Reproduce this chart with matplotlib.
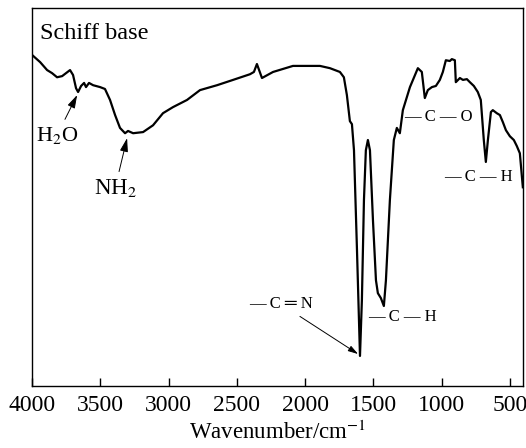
import numpy as np
import matplotlib
matplotlib.use("Agg")
import matplotlib.pyplot as plt

plt.rcParams['font.family'] = ['Liberation Serif', 'DejaVu Sans']
plt.rcParams['mathtext.fontset'] = 'stix'

# FT-IR spectrum of the Schiff base (wavenumber, transmittance in a.u.)
wavenumber = [4000, 3941, 3890, 3854, 3817, 3780, 3751, 3722, 3700, 3678,
              3663, 3641, 3619, 3605, 3583, 3553, 3502, 3466, 3429, 3392,
              3356, 3319, 3297, 3260, 3187, 3114, 3041, 2968, 2865, 2770,
              2645, 2528, 2404, 2375, 2353, 2316, 2235, 2089, 1987, 1891,
              1818, 1745, 1716, 1694, 1672, 1657, 1642, 1620, 1598, 1584,
              1569, 1555, 1540, 1525, 1503, 1481, 1467, 1445, 1423, 1408,
              1379, 1350, 1328, 1306, 1284, 1232, 1174, 1145, 1123, 1101,
              1071, 1042, 1013, 991, 969, 940, 925, 903, 896, 866,
              844, 815, 793, 764, 735, 713, 691, 676, 661, 639,
              625, 596, 573, 551, 529, 500, 471, 449, 427, 405]
transmittance = [87.6, 85.7, 83.6, 82.8, 81.7, 82.0, 82.8, 83.6, 82.3, 78.8,
                 77.8, 79.4, 80.2, 79.1, 80.2, 79.6, 79.1, 78.6, 75.7, 71.7,
                 68.3, 66.9, 67.5, 66.9, 67.2, 69.0, 72.2, 73.8, 75.7, 78.3,
                 79.6, 81.0, 82.5, 83.1, 85.2, 81.5, 83.1, 84.7, 84.7, 84.7,
                 84.1, 83.1, 81.7, 77.0, 70.1, 69.3, 62.4, 36.0, 8.0, 22.8,
                 49.2, 62.4, 65.1, 62.4, 43.9, 28.0, 24.6, 23.3, 21.2, 28.0,
                 49.2, 65.1, 68.3, 66.9, 73.0, 79.1, 84.1, 83.1, 76.2, 78.3,
                 79.1, 79.4, 81.0, 83.1, 86.2, 86.0, 86.5, 86.2, 80.4, 81.5,
                 81.0, 81.2, 80.4, 79.4, 77.8, 75.7, 65.1, 59.3, 65.1, 72.5,
                 73.0, 72.2, 71.7, 69.8, 67.7, 66.1, 65.1, 63.5, 61.6, 52.6]

xticks = [4000, 3500, 3000, 2500, 2000, 1500, 1000, 500]

fig = plt.figure(figsize=(5.26, 4.48), dpi=100)
ax = fig.add_axes([0.061, 0.138, 0.933, 0.844])

ax.plot(wavenumber, transmittance, color='black', lw=1.6)

ax.set_xlim(4000, 405)
ax.set_ylim(0, 100)
ax.set_xticks(xticks)
ax.set_yticks([])
ax.tick_params(axis='x', direction='in', length=6, width=1, labelsize=17, pad=6)
for s in ax.spines.values():
    s.set_linewidth(1)

ax.set_xlabel('Wavenumber/cm$^{-1}$', fontsize=16.5, labelpad=4)

ax.text(3941, 93.4, 'Schiff base', fontsize=17.5, ha='left', va='center')

arrow = dict(arrowstyle='-|>,head_length=0.5,head_width=0.15', color='black',
             lw=0.7, shrinkA=2, shrinkB=0)
ax.annotate('H$_2$O', xy=(3670, 77), xytext=(3817, 66.4), fontsize=16,
            ha='center', va='center', arrowprops=arrow)
ax.annotate('NH$_2$', xy=(3304, 65.6), xytext=(3392, 52.4), fontsize=16.5,
            ha='center', va='center', arrowprops=arrow)
ax.annotate('— C ═ N', xy=(1612, 8.5), xytext=(2177, 21.7), fontsize=12,
            ha='center', va='center', arrowprops=arrow)
ax.text(1027, 71.2, '— C — O', fontsize=12, ha='center', va='center')
ax.text(727, 55.3, '— C — H', fontsize=12, ha='center', va='center')
ax.text(1284, 18.3, '— C — H', fontsize=12, ha='center', va='center')

plt.savefig('out.png', dpi=100)
